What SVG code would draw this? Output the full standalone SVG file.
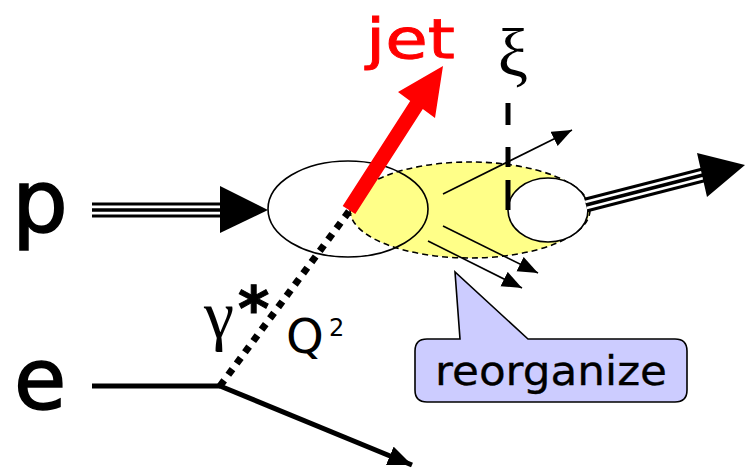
<svg xmlns="http://www.w3.org/2000/svg" width="745" height="468" viewBox="0 0 745 468">
<style>
.comic{font-family:"DejaVu Sans","Noto Sans",sans-serif;}
.serif{font-family:"Liberation Serif","DejaVu Serif",serif;}
.thin{stroke:#000;stroke-width:1.6;fill:none;}
</style>
<defs>
<marker id="ah" markerUnits="userSpaceOnUse" markerWidth="22" markerHeight="18" refX="20" refY="8" orient="auto">
<path d="M0,0 L20,8 L0,16 Z" fill="#000"/>
</marker>
<marker id="ah2" markerUnits="userSpaceOnUse" markerWidth="28" markerHeight="22" refX="24" refY="10" orient="auto">
<path d="M0,0 L24,10 L0,20 Z" fill="#000"/>
</marker>
</defs>
<g id="yellow-region">
<ellipse cx="470" cy="210" rx="120" ry="48" fill="#ffff88" stroke="#000" stroke-width="1.6" stroke-dasharray="6 4"/>
</g>
<g id="proton-left">
<ellipse cx="348" cy="209" rx="80" ry="48" fill="none" stroke="#000" stroke-width="1.6"/>
</g>
<g id="proton-right">
<ellipse cx="548" cy="210" rx="40" ry="32" fill="#fff" stroke="#000" stroke-width="1.6"/>
</g>
<g id="connectors">
<line x1="92" y1="210" x2="222" y2="210" stroke="#000" stroke-width="15"/>
<line x1="92" y1="210" x2="222" y2="210" stroke="#fff" stroke-width="9"/>
<line x1="92" y1="210" x2="222" y2="210" stroke="#000" stroke-width="3.5"/>
<polygon points="220,186 268,210 220,233" fill="#000"/>
<line x1="586" y1="205" x2="703" y2="175" stroke="#000" stroke-width="15"/>
<line x1="586" y1="205" x2="703" y2="175" stroke="#fff" stroke-width="9"/>
<line x1="586" y1="205" x2="703" y2="175" stroke="#000" stroke-width="3.5"/>
<polygon points="697,153 745,165 707,197" fill="#000"/>
<line x1="92" y1="386" x2="220" y2="386" stroke="#000" stroke-width="5"/>
<line x1="220" y1="386" x2="412" y2="465" stroke="#000" stroke-width="5" marker-end="url(#ah2)"/>
<line x1="220" y1="386" x2="350" y2="210" stroke="#000" stroke-width="7" stroke-dasharray="7 7"/>
<line class="thin" x1="443" y1="194" x2="572" y2="130" marker-end="url(#ah)"/>
<line class="thin" x1="443" y1="226" x2="538" y2="273" marker-end="url(#ah)"/>
<line class="thin" x1="428" y1="241" x2="522" y2="288" marker-end="url(#ah)"/>
<line x1="508" y1="103" x2="508" y2="210" stroke="#000" stroke-width="5" stroke-dasharray="22 22 20 13 30 40"/>
<polygon points="342.7,205.9 410.2,100.9 398,92 443,66 435,118 422.8,109.1 355.3,214.1" fill="#ff0000"/>
</g>
<g id="bubble">
<path d="M427,339 L460,339 L455,272 L528,339 L675,339 Q687,339 687,351 L687,390 Q687,402 675,402 L427,402 Q415,402 415,390 L415,351 Q415,339 427,339 Z" fill="#ccccff" stroke="#000" stroke-width="1.6"/>
<text class="comic" x="435" y="385" font-size="40" stroke="#000" stroke-width="0.3" textLength="232" lengthAdjust="spacingAndGlyphs">reorganize</text>
</g>
<g id="labels">
<text class="comic" x="12" y="232" font-size="88" stroke="#000" stroke-width="1.6">p</text>
<text class="comic" x="14" y="409" font-size="85" stroke="#000" stroke-width="1.6">e</text>
<text class="comic" x="366" y="58" font-size="56" fill="#ff0000" stroke="#ff0000" stroke-width="0.8" textLength="89" lengthAdjust="spacingAndGlyphs">jet</text>
<text class="serif" x="513" y="76" font-size="68" text-anchor="middle">ξ</text>
<text class="serif" x="204" y="338" font-size="68">γ</text>
<text class="comic" x="238" y="330" font-size="60" font-weight="bold" stroke="#000" stroke-width="1">*</text>
<text class="comic" x="286" y="353" font-size="48">Q</text>
<text class="comic" x="329" y="336" font-size="24">2</text>
</g>
</svg>
